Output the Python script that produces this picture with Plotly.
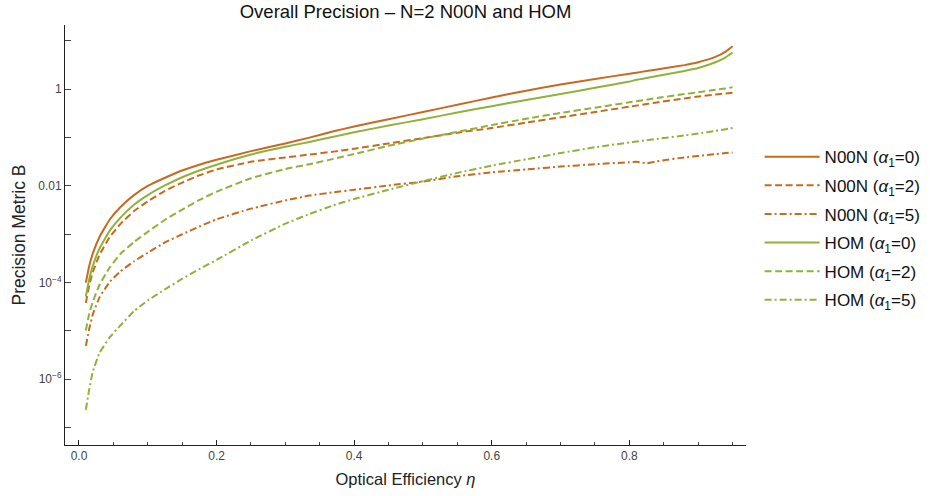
import plotly.graph_objects as go

# ---- data ----
eta = [0.01, 0.015, 0.02, 0.03, 0.045, 0.06, 0.08, 0.1, 0.125, 0.15, 0.175, 0.2,
       0.25, 0.3, 0.335, 0.37, 0.4, 0.45, 0.5, 0.55, 0.6, 0.65, 0.7, 0.75, 0.8,
       0.81, 0.825, 0.84, 0.88, 0.9, 0.925, 0.94, 0.95]

# log10 of Precision Metric B
noon_a0 = [-4.00, -3.65, -3.40, -3.05, -2.69, -2.44, -2.19, -2.00, -1.83, -1.68, -1.56, -1.46,
           -1.28, -1.12, -1.00, -0.87, -0.77, -0.62, -0.47, -0.32, -0.17, -0.03, 0.10, 0.215, 0.32,
           0.343, 0.377, 0.41, 0.50, 0.56, 0.67, 0.78, 0.89]
noon_a2 = [-4.42, -4.05, -3.79, -3.42, -3.05, -2.79, -2.52, -2.32, -2.10, -1.93, -1.78, -1.66,
           -1.50, -1.41, -1.35, -1.29, -1.23, -1.12, -1.01, -0.90, -0.80, -0.69, -0.58, -0.47, -0.36,
           -0.338, -0.305, -0.272, -0.19, -0.15, -0.11, -0.085, -0.07]
noon_a5 = [-5.31, -4.95, -4.66, -4.30, -3.98, -3.77, -3.56, -3.38, -3.17, -3.00, -2.84, -2.69,
           -2.47, -2.30, -2.20, -2.13, -2.08, -1.99, -1.91, -1.80, -1.72, -1.66, -1.60, -1.55, -1.51,
           -1.50, -1.53, -1.49, -1.41, -1.38, -1.34, -1.32, -1.31]
hom_a0 = [-4.29, -3.92, -3.66, -3.29, -2.92, -2.66, -2.39, -2.19, -1.99, -1.82, -1.68, -1.56,
          -1.35, -1.19, -1.09, -0.98, -0.89, -0.75, -0.62, -0.48, -0.35, -0.22, -0.10, 0.03, 0.16,
          0.196, 0.235, 0.274, 0.38, 0.44, 0.56, 0.66, 0.76]
hom_a2 = [-4.99, -4.64, -4.40, -4.04, -3.68, -3.41, -3.16, -2.95, -2.70, -2.49, -2.29, -2.12,
          -1.84, -1.65, -1.55, -1.44, -1.34, -1.17, -1.02, -0.88, -0.74, -0.61, -0.49, -0.38, -0.27,
          -0.248, -0.215, -0.182, -0.10, -0.06, -0.01, 0.018, 0.04]
hom_a5 = [-6.63, -6.20, -5.85, -5.45, -5.13, -4.89, -4.59, -4.37, -4.14, -3.92, -3.72, -3.53,
          -3.13, -2.78, -2.58, -2.40, -2.27, -2.08, -1.90, -1.73, -1.58, -1.45, -1.32, -1.20, -1.10,
          -1.082, -1.055, -1.028, -0.955, -0.915, -0.862, -0.826, -0.80]

series_names = ["N00N (<i>α</i><sub>1</sub>=0)", "N00N (<i>α</i><sub>1</sub>=2)", "N00N (<i>α</i><sub>1</sub>=5)",
                "HOM (<i>α</i><sub>1</sub>=0)", "HOM (<i>α</i><sub>1</sub>=2)", "HOM (<i>α</i><sub>1</sub>=5)"]
series_logs = [noon_a0, noon_a2, noon_a5, hom_a0, hom_a2, hom_a5]

y_tickvals = [1e1, 1e0, 1e-1, 1e-2, 1e-3, 1e-4, 1e-5, 1e-6, 1e-7]
y_ticktext = ["", "1", "", "0.01", "", "10<sup>−4</sup>", "", "10<sup>−6</sup>", ""]
x_tickvals = [0.0, 0.2, 0.4, 0.6, 0.8]
x_ticktext = ["0.0", "0.2", "0.4", "0.6", "0.8"]

ORANGE = "#C86A1E"
GREEN = "#8EB23A"
colors = [ORANGE, ORANGE, ORANGE, GREEN, GREEN, GREEN]
dashes = ["solid", "7px,3.5px", "7px,3px,2px,3px", "solid", "7px,3.5px", "7px,3px,2px,3px"]

FONT = "Liberation Sans, Arial, sans-serif"

fig = go.Figure()
for i, (name, lg) in enumerate(zip(series_names, series_logs)):
    fig.add_trace(go.Scatter(
        x=eta, y=[10 ** v for v in lg], mode="lines", name=name,
        legendgroup=f"g{i}",
        line=dict(color=colors[i], width=2, dash=dashes[i], shape="spline", smoothing=0.4),
    ))

W, H = 930, 496
L, R, T, B = 65, 184, 25, 51

fig.update_layout(
    width=W, height=H,
    margin=dict(l=L, r=R, t=T, b=B, autoexpand=False),
    paper_bgcolor="white", plot_bgcolor="white",
    font=dict(family=FONT, size=12, color="#444"),
    title=dict(text="Overall Precision – N=2 N00N and HOM", x=0.5, xref="paper",
               y=1 - 12 / H, yanchor="middle", yref="container",
               font=dict(family=FONT, size=18.5, color="#111")),
    legend=dict(x=1.02, xanchor="left", y=0.515, yanchor="middle",
                font=dict(family=FONT, size=17, color="#111"),
                itemwidth=55, tracegroupgap=3.5, traceorder="grouped",
                bgcolor="rgba(0,0,0,0)"),
    showlegend=True,
)
fig.update_xaxes(
    range=[-0.0203, 0.9695], showgrid=False, zeroline=False,
    showline=True, linecolor="#222", linewidth=1,
    tickmode="array", tickvals=x_tickvals, ticktext=x_ticktext,
    ticks="inside", ticklen=5, tickcolor="#222",
    minor=dict(dtick=0.05, tick0=0, ticks="inside", ticklen=3, tickcolor="#444"),
    tickfont=dict(family=FONT, size=12, color="#444"),
    title=dict(text="Optical Efficiency <i>η</i>", font=dict(family=FONT, size=16.5, color="#222"), standoff=11),
)
fig.update_yaxes(
    type="log", range=[-7.36, 1.33], showgrid=False, zeroline=False,
    showline=True, linecolor="#222", linewidth=1,
    tickmode="array", tickvals=y_tickvals, ticktext=y_ticktext,
    ticks="inside", ticklen=6, tickcolor="#444",
    tickfont=dict(family=FONT, size=12, color="#444"),
    title=dict(text="Precision Metric B", font=dict(family=FONT, size=17.5, color="#222"), standoff=8),
)

fig.write_html("out.html")
